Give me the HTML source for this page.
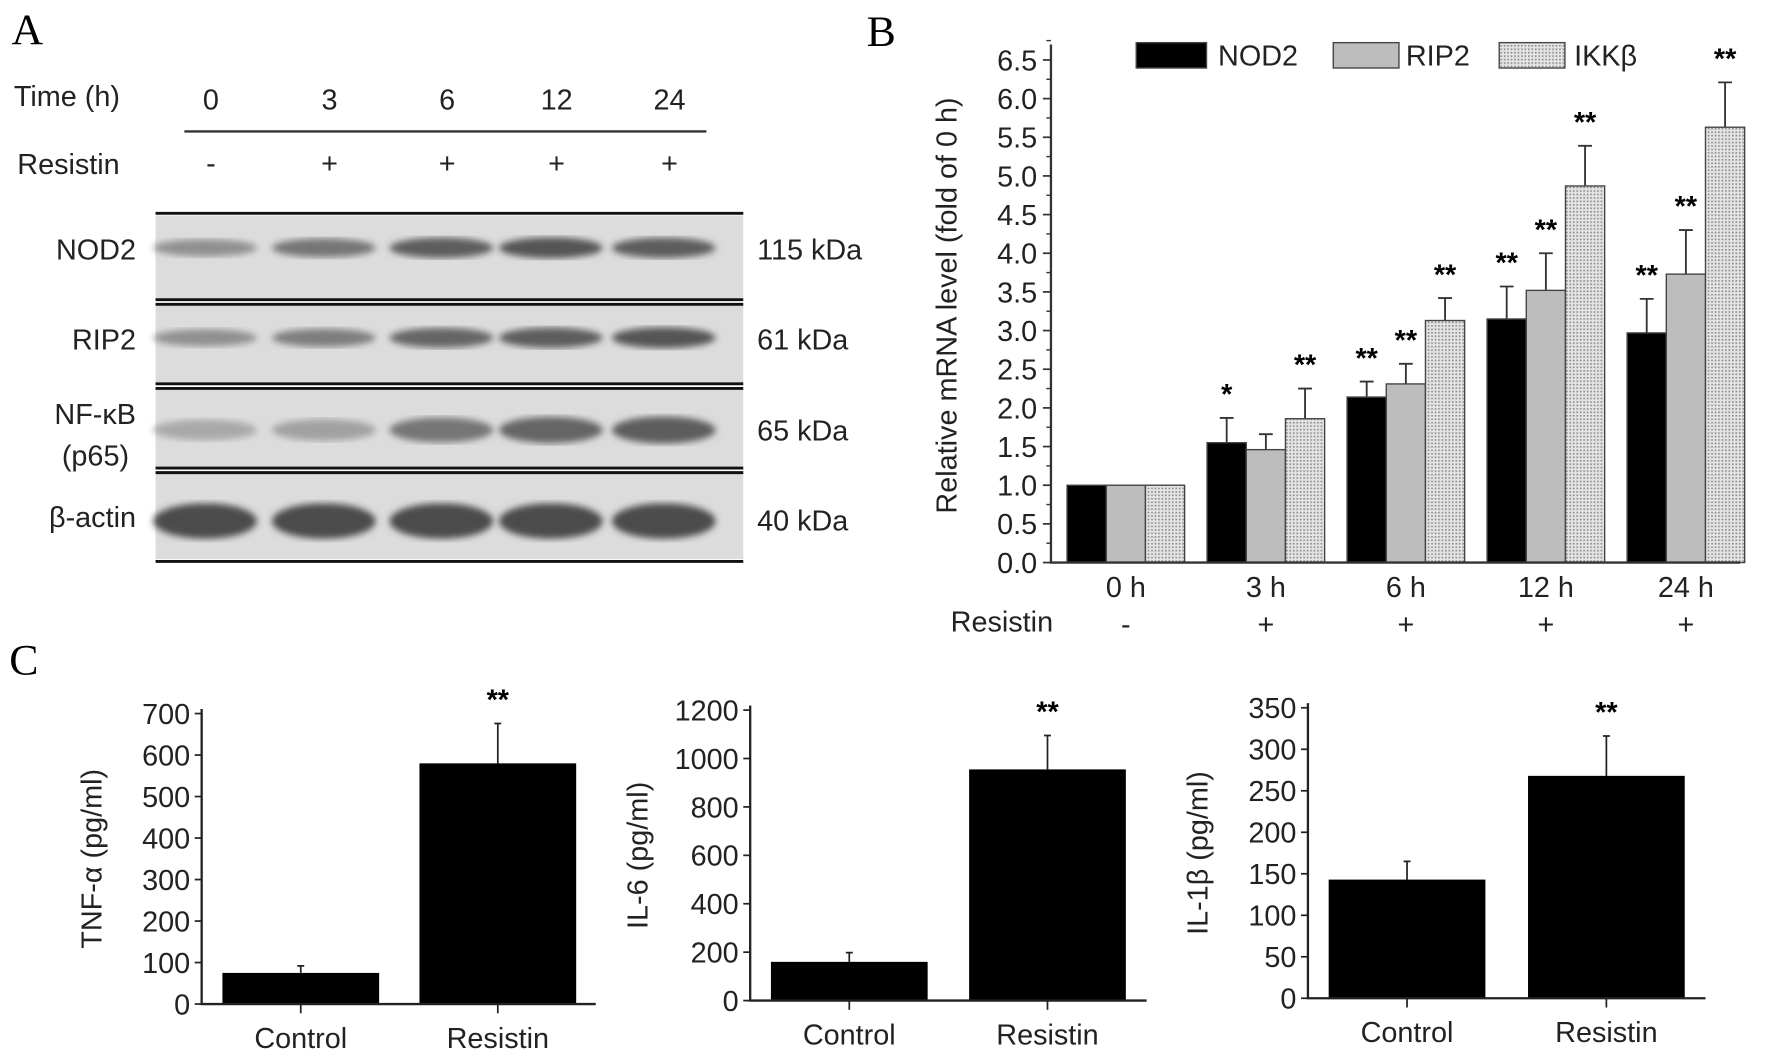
<!DOCTYPE html>
<html><head><meta charset="utf-8"><style>
html,body{margin:0;padding:0;background:#fff;}
svg{display:block;font-family:"Liberation Sans",sans-serif;}
</style></head><body>
<svg id="fig" width="1785" height="1049" viewBox="0 0 1549 910" preserveAspectRatio="none" xmlns="http://www.w3.org/2000/svg">
<defs>
<pattern id="dots" width="3" height="3" patternUnits="userSpaceOnUse"><rect width="3" height="3" fill="#e4e4e4"/><rect width="1.4" height="1.4" fill="#8a8a8a"/></pattern>
<filter id="blur"><feGaussianBlur stdDeviation="3"/></filter>
</defs>
<g id="panelA">
<text x="10" y="38" font-family="Liberation Serif" font-size="38">A</text>
<text x="12" y="92" font-size="25" fill="#222">Time (h)</text>
<line x1="160" y1="114" x2="613" y2="114" stroke="#333" stroke-width="2"/>
<text x="15" y="151" font-size="25" fill="#222">Resistin</text>
</g>
<g id="panelB"></g>
<g id="panelC"></g>
</svg>
<script>
const NS="http://www.w3.org/2000/svg";
function mk(tag,attrs,parent,txt){const e=document.createElementNS(NS,tag);for(const k in attrs)e.setAttribute(k,attrs[k]);if(txt!==undefined)e.textContent=txt;parent.appendChild(e);return e;}

// ---------- Panel A data ----------
const blotTimes=["0","3","6","12","24"];
const blotSigns=["-","+","+","+","+"];
const blotRows=["NOD2","RIP2","NF-κB","β-actin"];
const blotKda=["115 kDa","61 kDa","65 kDa","40 kDa"];
const bandIntensity=[[0.45,0.6,0.75,0.8,0.75],[0.45,0.55,0.7,0.75,0.8],[0.3,0.35,0.6,0.7,0.75],[0.85,0.85,0.85,0.85,0.85]];

const A=document.getElementById('panelA');
const laneX=[183,286,388,483,581];
blotTimes.forEach((t,i)=>{
 const e=mk('text',{x:laneX[i],y:95,'font-size':25,'text-anchor':'middle',fill:'#222'},A,t);
 
 
 const s=mk('text',{x:laneX[i],y:150,'font-size':25,'text-anchor':'middle',fill:'#222'},A,blotSigns[i]);
 
 
});
const rowBoxes=[[185,262],[262,335],[335,408],[408,487]];
const rowLabelY=[225,303,368,457];
const kdaY=[225,303,382,460];
const bandY=[215,293,373,452];
const bandH=[9,9,12,15];
rowBoxes.forEach((b,r)=>{
 const g=mk('g',{},A);
 
 
 mk('rect',{x:135,y:b[0]+2,width:510,height:b[1]-b[0]-4,fill:'#dcdcdc'},g);
 mk('line',{x1:135,y1:b[0]+(r?2:0),x2:645,y2:b[0]+(r?2:0),stroke:'#111','stroke-width':2.5},g);
 mk('line',{x1:135,y1:b[1]-(r<3?2:0),x2:645,y2:b[1]-(r<3?2:0),stroke:'#111','stroke-width':2.5},g);
 laneX.forEach((x,i)=>{
  const v=bandIntensity[r][i];const c=Math.round(220-v*170);
  mk('ellipse',{cx:x-5,cy:bandY[r],rx:45,ry:bandH[r]*(0.6+v*0.5),fill:`rgb(${c},${c},${c})`,filter:'url(#blur)'},g);
 });
 const lab=mk('text',{x:118,y:rowLabelY[r],'font-size':25,'text-anchor':'end',fill:'#222'},g,blotRows[r]);
 
 
 const kd=mk('text',{x:657,y:kdaY[r],'font-size':25,fill:'#222'},g,blotKda[r]);
 
 
});
const p65=mk('text',{x:112,y:404,'font-size':25,'text-anchor':'end',fill:'#222'},A,'(p65)');



// ---------- Panel B data ----------
const bCategories=["0 h","3 h","6 h","12 h","24 h"];
const bSigns=["-","+","+","+","+"];
const bSeries=["NOD2","RIP2","IKKβ"];
const nod2Vals=[1,1.55,2.14,3.15,2.97];
const rip2Vals=[1,1.46,2.31,3.52,3.73];
const ikkVals=[1,1.86,3.13,4.87,5.63];
const nod2Err=[0,0.32,0.20,0.42,0.44];
const rip2Err=[0,0.20,0.26,0.48,0.57];
const ikkErr=[0,0.39,0.29,0.52,0.58];
const nod2Sig=["","*","**","**","**"];
const rip2Sig=["","","**","**","**"];
const ikkSig=["","**","**","**","**"];
const bTicks=["0.0","0.5","1.0","1.5","2.0","2.5","3.0","3.5","4.0","4.5","5.0","5.5","6.0","6.5"];

const B=document.getElementById('panelB');
const by=v=>488-v*(436/6.5);
const bx=i=>977+i*121.5;
const bl=mk('text',{x:752,y:40,'font-family':'Liberation Serif','font-size':38},B,'B');


const fills=['#000','#bdbdbd','url(#dots)'];
const vals=[nod2Vals,rip2Vals,ikkVals],errs=[nod2Err,rip2Err,ikkErr],sigs=[nod2Sig,rip2Sig,ikkSig];
const bw=34;
bCategories.forEach((c,i)=>{
 vals.forEach((arr,s)=>{
  const x=bx(i)-1.5*bw+s*bw;
  const v=arr[i];
  if(errs[s][i]>0){
   const t=by(v+errs[s][i]);const xc=x+bw/2;
   const e=mk('path',{d:`M${xc},${by(v)}V${t}M${xc-6},${t}H${xc+6}`,stroke:'#333','stroke-width':1.6,fill:'none'},B);
   
   
  }
  const r=mk('rect',{x:x,y:by(v),width:bw,height:by(0)-by(v),fill:fills[s],stroke:'#444','stroke-width':1.2},B);
  
  
  if(sigs[s][i]){
   const st=mk('text',{x:x+bw/2,y:by(v+errs[s][i])-12,'font-size':25,'font-weight':'bold','text-anchor':'middle'},B,sigs[s][i]);
   
   
  }
 });
 const xl=mk('text',{x:bx(i),y:518,'font-size':25,'text-anchor':'middle',fill:'#222'},B,c);
 
 
 const sg=mk('text',{x:bx(i),y:550,'font-size':25,'text-anchor':'middle',fill:'#222'},B,bSigns[i]);
 
 
});
const ax=mk('path',{d:`M912,${by(6.7)}V488H1510`,stroke:'#333','stroke-width':2,fill:'none'},B);


bTicks.forEach((t,k)=>{
 const v=parseFloat(t);
 mk('line',{x1:905,y1:by(v),x2:912,y2:by(v),stroke:'#333','stroke-width':1.5},B);
 mk('line',{x1:908,y1:by(v+0.25),x2:912,y2:by(v+0.25),stroke:'#333','stroke-width':1.2},B);
 const tl=mk('text',{x:900,y:by(v)+9,'font-size':25,'text-anchor':'end',fill:'#222'},B,t);
 
 
});
const yt=mk('text',{x:0,y:0,'font-size':25,'text-anchor':'middle',fill:'#222',transform:'translate(830,265) rotate(-90)'},B,'Relative mRNA level  (fold of 0 h)');


const rb=mk('text',{x:825,y:548,'font-size':25,fill:'#222'},B,'Resistin');


const legX=[986,1157,1301],legW=[61,57,57],legT=[1057,1220,1366];
bSeries.forEach((s,k)=>{
 const g=mk('g',{},B);
 
 
 mk('rect',{x:legX[k],y:37,width:legW[k],height:22,fill:fills[k],stroke:'#444','stroke-width':1.2},g);
 mk('text',{x:legT[k],y:57,'font-size':25,fill:'#222'},g,s);
});

// ---------- Panel C data ----------
const cCategories=["Control","Resistin"];
const tnfVals=[75,580],tnfErr=[17,96];
const il6Vals=[160,955],il6Err=[38,140];
const il1Vals=[143,268],il1Err=[22,48];
const tnfTicks=["0","100","200","300","400","500","600","700"];
const il6Ticks=["0","200","400","600","800","1000","1200"];
const il1Ticks=["0","50","100","150","200","250","300","350"];
const cSig=["","**"];

const C=document.getElementById('panelC');
const cl=mk('text',{x:8,y:585,'font-family':'Liberation Serif','font-size':38},C,'C');


const charts=[
 {name:'tnf',title:'TNF-α (pg/ml)',vals:tnfVals,err:tnfErr,ticks:tnfTicks,ax:175,y0:871,ytop:619,xend:517,bars:[193,364],tx:88},
 {name:'il6',title:'IL-6 (pg/ml)',vals:il6Vals,err:il6Err,ticks:il6Ticks,ax:651,y0:868,ytop:616,xend:995,bars:[669,841],tx:562},
 {name:'il1b',title:'IL-1β (pg/ml)',vals:il1Vals,err:il1Err,ticks:il1Ticks,ax:1135,y0:866,ytop:614,xend:1480,bars:[1153,1326],tx:1048}
];
charts.forEach(ch=>{
 const g=mk('g',{},C);
 
 
 const max=parseFloat(ch.ticks[ch.ticks.length-1]);
 const y=v=>ch.y0-v*(ch.y0-ch.ytop)/max;
 cCategories.forEach((c,i)=>{
  const x=ch.bars[i],w=136,v=ch.vals[i],t=y(v+ch.err[i]),xc=x+w/2;
  const e=mk('path',{d:`M${xc},${y(v)}V${t}M${xc-3},${t}H${xc+3}`,stroke:'#222','stroke-width':1.5,fill:'none'},g);
  
  
  const r=mk('rect',{x:x,y:y(v),width:w,height:ch.y0-y(v),fill:'#000'},g);
  
  
  mk('line',{x1:xc,y1:ch.y0,x2:xc,y2:ch.y0+8,stroke:'#222','stroke-width':1.5},g);
  const xl=mk('text',{x:xc,y:ch.y0+38,'font-size':25,'text-anchor':'middle',fill:'#222'},g,c);
  
  
  if(cSig[i]){
   const s=mk('text',{x:xc,y:t-12,'font-size':25,'font-weight':'bold','text-anchor':'middle'},g,cSig[i]);
   
   
  }
 });
 const a=mk('path',{d:`M${ch.ax},${ch.ytop-4}V${ch.y0}H${ch.xend}`,stroke:'#222','stroke-width':2,fill:'none'},g);
 
 
 ch.ticks.forEach(t=>{
  const v=parseFloat(t);
  mk('line',{x1:ch.ax-6,y1:y(v),x2:ch.ax,y2:y(v),stroke:'#222','stroke-width':1.5},g);
  const tl=mk('text',{x:ch.ax-10,y:y(v)+9,'font-size':25,'text-anchor':'end',fill:'#222'},g,t);
  
  
 });
 const tt=mk('text',{x:0,y:0,'font-size':25,'text-anchor':'middle',fill:'#222',transform:`translate(${ch.tx},${(ch.y0+ch.ytop)/2}) rotate(-90)`},g,ch.title);
 
 
});
</script>
</body></html>
